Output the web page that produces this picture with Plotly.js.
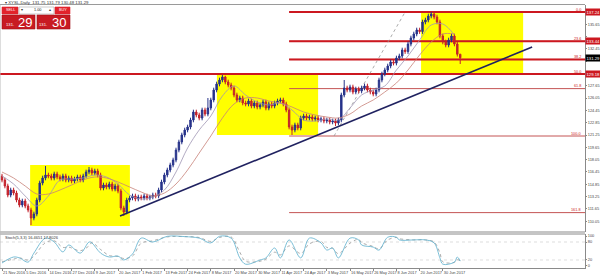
<!DOCTYPE html>
<html><head><meta charset="utf-8">
<script src="https://cdn.plot.ly/plotly-3.0.1.min.js"></script>
<style>html,body{margin:0;padding:0;background:#fff;}#chart{width:600px;height:277px;}</style>
</head><body><div id="chart"></div>
<script>
const symbol = 'XYSL';
const timeframe = 'Daily';

const open = [
115.90,115.40,114.62,113.45,114.10,113.71,112.80,112.15,112.67,112.02,
111.50,110.46,110.98,112.80,115.01,115.66,116.05,115.92,115.66,116.18,
115.79,115.53,115.92,115.40,115.66,115.27,115.53,115.79,115.40,115.92,
116.44,116.70,116.31,116.57,116.05,114.36,114.75,114.49,114.88,114.23,
114.62,113.97,111.76,111.24,112.80,113.06,113.32,112.93,113.19,113.06,
113.32,113.06,113.19,113.45,113.32,114.10,115.14,116.05,116.70,117.35,
118.00,119.30,120.34,121.25,121.90,122.29,123.20,124.24,123.85,123.46,
124.50,123.98,124.76,125.80,127.10,127.88,128.40,128.79,128.14,127.75,
127.36,126.45,125.80,126.06,125.41,125.28,125.67,125.02,125.41,124.89,
125.15,125.54,124.76,125.28,125.02,125.41,125.67,125.80,125.28,124.50,
122.29,121.90,122.55,122.16,123.46,123.72,123.46,123.59,123.33,123.46,
123.20,123.33,123.07,123.20,122.94,123.07,122.81,123.20,126.45,127.36,
127.10,127.49,126.84,127.23,126.97,127.36,127.62,127.10,126.84,126.58,
127.10,128.40,129.18,129.70,130.22,130.74,130.60,131.26,131.52,132.30,
132.10,133.08,133.86,134.38,134.90,134.70,135.94,136.20,136.72,136.98,
136.59,135.94,134.12,133.34,132.95,133.60,134.12,133.08,131.75];
const high = [
116.20,115.70,114.92,114.40,114.40,114.01,113.10,112.97,112.97,112.32,
111.80,111.28,113.10,115.31,115.96,117.22,116.35,116.22,116.48,116.48,
116.09,116.22,116.22,115.96,115.96,115.83,116.09,116.09,116.22,116.74,
117.09,117.00,116.87,116.87,116.35,115.05,115.05,115.18,115.18,114.92,
114.92,114.27,112.06,113.10,113.36,113.62,113.62,113.49,113.49,113.62,
113.62,113.49,113.75,113.75,114.40,115.44,116.35,117.00,117.65,118.30,
119.60,120.64,121.55,122.20,122.59,123.50,124.54,124.54,124.15,124.80,
124.80,126.06,126.10,127.40,128.18,128.70,129.05,128.95,128.44,128.05,
127.66,126.75,126.36,126.36,125.71,125.97,125.97,125.71,125.71,125.45,
125.84,125.84,125.58,125.58,125.71,125.97,126.10,126.10,125.58,124.80,
122.59,122.85,122.85,123.76,124.02,124.02,123.89,123.89,123.76,123.76,
123.63,123.63,123.50,123.50,123.37,123.37,123.50,126.75,128.40,127.66,
127.79,127.79,127.53,127.53,127.66,127.92,127.92,127.40,127.14,127.40,
128.70,129.48,130.00,130.52,131.04,131.04,131.56,131.82,132.60,132.60,
133.38,134.16,134.68,135.20,135.20,136.24,136.50,137.02,137.24,137.20,
136.89,136.24,134.42,133.64,133.90,134.42,134.42,133.38,131.79];
const low = [
115.10,114.32,113.15,113.15,113.41,112.50,111.85,111.85,111.72,111.20,
109.55,110.16,110.68,112.50,114.71,115.36,115.62,115.36,115.36,115.49,
115.23,115.23,115.10,115.10,114.97,114.97,115.23,115.10,115.10,115.62,
116.14,116.01,116.01,115.75,114.06,114.06,114.19,114.19,113.93,113.93,
113.67,111.46,110.72,110.94,112.50,112.76,112.63,112.63,112.76,112.76,
112.76,112.76,112.89,113.02,113.02,113.80,114.84,115.75,116.40,117.05,
117.70,119.00,120.04,120.95,121.60,121.99,122.90,123.55,123.16,123.16,
123.68,123.68,124.46,125.50,126.80,127.58,128.10,127.84,127.45,127.06,
126.15,125.50,125.50,125.11,124.98,124.98,124.72,124.72,124.59,124.59,
124.85,124.46,124.46,124.72,124.72,125.11,125.37,124.98,124.20,121.99,
121.25,121.60,121.86,121.86,123.16,123.16,123.16,123.03,123.03,122.90,
122.90,122.77,122.77,122.64,122.64,122.42,122.51,122.90,126.15,126.80,
126.80,126.54,126.54,126.67,126.67,127.06,126.80,126.54,126.28,126.28,
126.80,128.10,128.88,129.40,129.92,130.30,130.30,130.96,131.22,131.80,
131.80,132.78,133.56,134.08,134.40,134.40,135.64,135.90,136.42,136.29,
135.64,133.82,133.04,132.65,132.65,133.30,132.78,131.45,130.48];
const close = [
115.40,114.62,113.45,114.10,113.71,112.80,112.15,112.67,112.02,111.50,
110.46,110.98,112.80,115.01,115.66,116.05,115.92,115.66,116.18,115.79,
115.53,115.92,115.40,115.66,115.27,115.53,115.79,115.40,115.92,116.44,
116.70,116.31,116.57,116.05,114.36,114.75,114.49,114.88,114.23,114.62,
113.97,111.76,111.24,112.80,113.06,113.32,112.93,113.19,113.06,113.32,
113.06,113.19,113.45,113.32,114.10,115.14,116.05,116.70,117.35,118.00,
119.30,120.34,121.25,121.90,122.29,123.20,124.24,123.85,123.46,124.50,
123.98,124.76,125.80,127.10,127.88,128.40,128.79,128.14,127.75,127.36,
126.45,125.80,126.06,125.41,125.28,125.67,125.02,125.41,124.89,125.15,
125.54,124.76,125.28,125.02,125.41,125.67,125.80,125.28,124.50,122.29,
121.90,122.55,122.16,123.46,123.72,123.46,123.59,123.33,123.46,123.20,
123.33,123.07,123.20,122.94,123.07,122.81,123.20,126.45,127.36,127.10,
127.49,126.84,127.23,126.97,127.36,127.62,127.10,126.84,126.58,127.10,
128.40,129.18,129.70,130.22,130.74,130.60,131.26,131.52,132.30,132.10,
133.08,133.86,134.38,134.90,134.70,135.94,136.20,136.72,136.98,136.59,
135.94,134.12,133.34,132.95,133.60,134.12,133.08,131.75,131.29];

const dateLabels = ['21 Nov 2016','5 Dec 2016','14 Dec 2016','27 Dec 2016','9 Jan 2017','20 Jan 2017',
  '1 Feb 2017','13 Feb 2017','24 Feb 2017','8 Mar 2017','20 Mar 2017','30 Mar 2017','11 Apr 2017',
  '24 Apr 2017','3 May 2017','16 May 2017','26 May 2017','8 Jun 2017','20 Jun 2017','30 Jun 2017'];
const barsPerLabel = 8;

const maStep = 4;
const maFast = [115.92,114.88,113.32,112.02,113.32,115.40,115.53,115.66,116.05,115.79,
  114.88,113.45,112.93,113.19,114.10,116.44,119.56,121.90,123.72,126.32,
  127.62,126.45,125.54,125.15,125.41,124.50,123.20,123.07,123.33,123.20,
  124.76,126.45,127.10,127.62,129.70,131.52,133.60,135.55,135.68,134.25];
const maSlow = [116.44,115.66,114.62,113.58,113.58,114.10,114.75,115.40,115.79,115.66,
  115.14,114.49,113.84,113.32,113.71,114.88,116.70,118.91,121.12,123.46,
  125.28,126.06,126.06,125.67,125.41,124.89,124.24,123.85,123.59,123.46,
  123.98,125.02,125.80,126.84,128.01,129.70,131.65,133.34,134.38,134.38];

const stochX = [0,4,6,9,11,15,18,21,23,27,30,31,34,37,40,42,45,48,52,57,63,68,72,75,79,82,84,89,91,94,
  96,99,103,106,110,112,114,116,120,123,124,128,130,133,136,137,142,146,149,151,152,156,157,158];
const stochK = [10,30,27,13,43,93,80,47,70,43,80,77,43,30,33,20,40,93,80,99,98,93,77,99,93,27,6,20,27,60,
  27,87,27,93,77,53,60,27,93,87,70,63,53,96,96,87,87,87,77,27,6,13,30,16.4651];
const stochD = [14,23,27,20,33,78,84,62,63,51,67,78,55,35,32,25,33,76,84,97,98,95,82,95,97,46,16,16,23,46,
  37,67,42,74,82,62,59,41,76,89,78,65,57,87,95,91,87,87,80,44,14,12,21,17.8026];
const stochLevels = [20, 80];
const stochTicks = [0, 20, 80, 100];

const fibLevels = [137.24, 133.44, 131.08, 129.18, 127.28, 121.12, 111.16];
const fibNames = ['0.0','23.6','38.2','50.0','61.8','100.0','161.8'];
const fibStartBar = 99;
const fibLineBars = [114.5, 139];
const fibLinePrices = [121.12, 137.24];
const srLevels = [137.24, 133.44, 131.08, 129.18];
const srFullWidth = [false, false, false, true];
const srPriceTag = [true, true, false, true];

const zoneStart = [9.7, 74.1, 144.5];
const zoneEnd = [44.1, 109.0, 179.7];
const zoneLow = [109.42, 121.25, 129.31];
const zoneHigh = [117.35, 129.05, 137.24];

const trendBars = [40.7, 182.8];
const trendPrices = [110.72, 132.69];

const askPrice = 131.30;
const lotSize = '1.00';
const priceTick0 = 108.45, priceTickStep = 1.6;

// ---------- layout geometry ----------
const W = 600, H = 277, plotW = 585;
const PX = x => x / plotW;
const PY = y => 1 - y / H;
const mainDomain = [PY(232), PY(5)];
const stochDomain = [PY(268), PY(234)];
const xRange = [-0.69, 201.03];
const yRange = [108.64, 138.15];
const y2Range = [-6.7, 106.7];
const FONT = 'Arial, Liberation Sans, sans-serif';

const n = close.length;
const bars = close.map((_, i) => i);
const maX = maFast.map((_, i) => i * maStep);
const last = n - 1;

const red = 'rgb(204,24,32)';
const thinRed = 'rgb(196,84,84)';

// axis ticks; labels hidden where an axis price tag covers them (as in the terminal)
const taggedPrices = srLevels.filter((_, i) => srPriceTag[i]).concat([close[last]]);
const priceTicks = [];
for (let v = priceTick0; v <= yRange[1]; v += priceTickStep) priceTicks.push(+v.toFixed(2));
const priceTickText = priceTicks.map(v => taggedPrices.some(p => Math.abs(p - v) < 0.75) ? '' : v.toFixed(2));

const traces = [
  {type:'candlestick', x:bars, open:open, high:high, low:low, close:close, xaxis:'x', yaxis:'y',
   increasing:{line:{color:'#27338a', width:1}, fillcolor:'#27338a'},
   decreasing:{line:{color:'#c4222b', width:1}, fillcolor:'#c4222b'},
   whiskerwidth:0, hoverinfo:'skip', showlegend:false},
  {type:'scatter', mode:'lines', x:maX, y:maFast, xaxis:'x', yaxis:'y',
   line:{color:'rgb(160,150,180)', width:0.8, shape:'spline'}, hoverinfo:'skip', showlegend:false},
  {type:'scatter', mode:'lines', x:maX, y:maSlow, xaxis:'x', yaxis:'y',
   line:{color:'rgb(200,130,120)', width:0.8, shape:'spline'}, hoverinfo:'skip', showlegend:false},
  {type:'scatter', mode:'lines', x:stochX, y:stochD, xaxis:'x', yaxis:'y2',
   line:{color:'rgb(150,150,150)', width:0.8, dash:'dot', shape:'spline'}, hoverinfo:'skip', showlegend:false},
  {type:'scatter', mode:'lines', x:stochX, y:stochK, xaxis:'x', yaxis:'y2',
   line:{color:'rgb(90,175,205)', width:0.8, shape:'spline'}, hoverinfo:'skip', showlegend:false}
];

const shapes = [];
zoneStart.forEach((s, i) => shapes.push({type:'rect', xref:'x', yref:'y', x0:s, x1:zoneEnd[i],
  y0:zoneLow[i], y1:zoneHigh[i], fillcolor:'#ffff00', line:{width:0}, layer:'below'}));
fibLevels.forEach(v => shapes.push({type:'line', xref:'x', yref:'y', x0:fibStartBar, x1:xRange[1], y0:v, y1:v,
  line:{color:thinRed, width:1}, layer:'below'}));
srLevels.forEach((v, i) => shapes.push({type:'line', xref:'x', yref:'y',
  x0:srFullWidth[i] ? xRange[0] : fibStartBar, x1:xRange[1], y0:v, y1:v,
  line:{color:red, width:2}, layer:'below'}));
shapes.push({type:'line', xref:'x', yref:'y', x0:fibLineBars[0], x1:fibLineBars[1], y0:fibLinePrices[0], y1:fibLinePrices[1],
  line:{color:'rgb(150,150,150)', width:0.8, dash:'dot'}, layer:'below'});
shapes.push({type:'line', xref:'x', yref:'y', x0:trendBars[0], x1:trendBars[1], y0:trendPrices[0], y1:trendPrices[1],
  line:{color:'rgb(32,34,96)', width:1.6}, layer:'above'});
stochLevels.forEach(v => shapes.push({type:'line', xref:'paper', yref:'y2', x0:0, x1:1, y0:v, y1:v,
  line:{color:'rgb(200,200,200)', width:0.6, dash:'dot'}, layer:'below'}));
// window borders
[[PY(4.5),'#9a9a9a'],[mainDomain[0],'#8a8a8a'],[stochDomain[1],'#8a8a8a']].forEach(([y,c]) =>
  shapes.push({type:'line', xref:'paper', yref:'paper', x0:0, x1:1, y0:y, y1:y, line:{color:c, width:1}}));
shapes.push({type:'line', xref:'paper', yref:'paper', x0:0, x1:0, y0:stochDomain[0], y1:PY(4.5), line:{color:'#bbbbbb', width:1}});
// one-click trading widget
const wRect = (x0,y0,x1,y1,fill,lc) => shapes.push({type:'rect', xref:'paper', yref:'paper',
  x0:PX(x0), x1:PX(x1), y0:PY(y1), y1:PY(y0), fillcolor:fill, line:{color:lc||fill, width:0.6}, layer:'above'});
wRect(2,7,18,14,'#e2232b');
wRect(19,7,54,14,'#ffffff','#aaaaaa');
wRect(55,7,70,14,'#e2232b');
wRect(2,15,35,29,'#c81a22','#a01018');
wRect(37,15,70,29,'#c81a22','#a01018');

const bidStr = close[last].toFixed(2), askStr = askPrice.toFixed(2);
const ann = [];
const pText = (x, y, text, size, color, xa) => ann.push({xref:'paper', yref:'paper', x:PX(x), y:PY(y), text:text,
  showarrow:false, xanchor:xa||'center', yanchor:'middle', font:{size:size, color:color, family:FONT}});
pText(3, 2.3, '▾ ' + symbol + ',' + timeframe + '  ' + open[last].toFixed(2) + ' ' + high[last].toFixed(2) + ' ' +
  low[last].toFixed(2) + ' ' + close[last].toFixed(2), 4.3, '#333333', 'left');
pText(10, 10.5, 'SELL', 3.8, '#ffffff');
pText(62.5, 10.5, 'BUY', 3.8, '#ffffff');
pText(22, 10.5, '▾', 3.8, '#333333');
pText(37, 10.5, lotSize, 3.8, '#222222');
pText(50, 10.5, '▴', 3.8, '#333333');
pText(15.5, 24, bidStr.slice(0, 4), 4.2, '#ffffff', 'right');
pText(16, 22.5, bidStr.slice(4), 13, '#ffffff', 'left');
pText(49, 24, askStr.slice(0, 4), 4.2, '#ffffff', 'right');
pText(49.5, 22.5, askStr.slice(4), 13, '#ffffff', 'left');
pText(3, 237.5, 'Stoch(5,3,3) ' + stochK[stochK.length-1].toFixed(4) + ' ' + stochD[stochD.length-1].toFixed(4), 4, '#333333', 'left');

// fib level names
fibLevels.forEach((v, i) => ann.push({xref:'paper', yref:'y', x:PX(583), y:v, text:fibNames[i], showarrow:false,
  xanchor:'right', yanchor:'bottom', yshift:-1.5, font:{size:3.8, color:red, family:FONT}}));
// price boxes on the axis
const priceBox = (v, bg) => ann.push({xref:'paper', yref:'y', x:1, y:v, text:v.toFixed(2), showarrow:false,
  xanchor:'left', yanchor:'middle', bgcolor:bg, borderpad:0.5, font:{size:4.2, color:'#ffffff', family:FONT}});
srLevels.forEach((v, i) => { if (srPriceTag[i]) priceBox(v, red); });
priceBox(close[last], '#000000');

const layout = {
  width:W, height:H, margin:{l:0, r:15, t:0, b:0}, paper_bgcolor:'#ffffff', plot_bgcolor:'#ffffff',
  showlegend:false, dragmode:false, hovermode:false,
  xaxis:{domain:[0,1], anchor:'y2', range:xRange, showgrid:false, zeroline:false,
    rangeslider:{visible:false}, showline:true, linecolor:'#8a8a8a', linewidth:1,
    tickvals:dateLabels.map((_, i) => i * barsPerLabel), ticktext:dateLabels, tickangle:0,
    ticks:'outside', ticklen:2, tickcolor:'#888', ticklabelposition:'outside right',
    tickfont:{size:3.9, color:'#444', family:FONT}},
  yaxis:{domain:mainDomain, anchor:'x', side:'right', range:yRange, showgrid:false, zeroline:false,
    showline:true, linecolor:'#8a8a8a', linewidth:1, tickvals:priceTicks, ticktext:priceTickText,
    ticks:'outside', ticklen:1, tickcolor:'#888',
    tickfont:{size:3.9, color:'#444', family:FONT}},
  yaxis2:{domain:stochDomain, anchor:'x', side:'right', range:y2Range, showgrid:false, zeroline:false,
    showline:true, linecolor:'#8a8a8a', linewidth:1, tickvals:stochTicks, ticktext:stochTicks.map(String),
    ticks:'outside', ticklen:1, tickcolor:'#888',
    tickfont:{size:3.9, color:'#444', family:FONT}},
  shapes:shapes, annotations:ann
};

Plotly.newPlot('chart', traces, layout, {staticPlot:true, displayModeBar:false});
</script></body></html>
